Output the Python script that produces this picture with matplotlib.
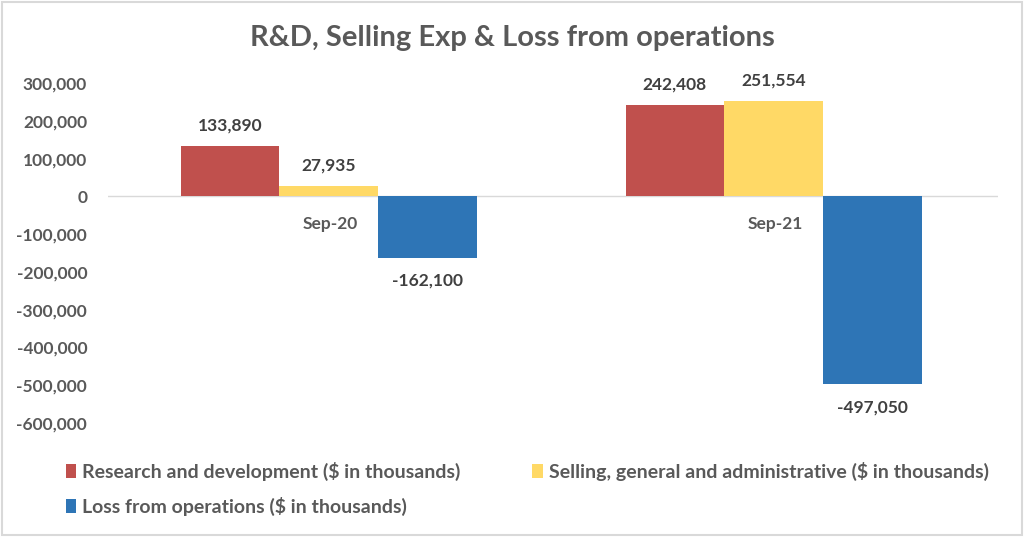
import numpy as np
import matplotlib
matplotlib.use("Agg")
import matplotlib.pyplot as plt
from matplotlib.patches import Rectangle

plt.rcParams['font.family'] = ['Lato', 'DejaVu Sans']

categories = ['Sep-20', 'Sep-21']
rnd = [133890, 242408]
sga = [27935, 251554]
loss = [-162100, -497050]
series_names = ['Research and development ($ in thousands)',
                'Selling, general and administrative ($ in thousands)',
                'Loss from operations ($ in thousands)']
colors = ['#C0504D', '#FFD966', '#2E75B6']

fig = plt.figure(figsize=(10.24, 5.37), dpi=100)
ax = fig.add_axes([108/1024, 1 - 423/537, (998-108)/1024, (423-83)/537])

x = np.arange(len(categories))
w = 0.222
handles = []
for i, (vals, c, name) in enumerate(zip([rnd, sga, loss], colors, series_names)):
    bars = ax.bar(x + (i - 1) * w - 0.004, vals, width=w, color=c, label=name)
    handles.append(bars)
    for b, v in zip(bars, vals):
        off = 9 if v >= 0 else -11
        ax.annotate(f'{v:,}', (b.get_x() + b.get_width() / 2, v), xytext=(0, off),
                    textcoords='offset points', ha='center',
                    va='bottom' if v >= 0 else 'top',
                    fontsize=12.5, fontweight='bold', color='#404040')

ax.set_xlim(-0.5, 1.5)
ax.set_ylim(-600000, 300000)
ax.set_yticks(np.arange(-600000, 300001, 100000))
ax.yaxis.set_major_formatter(matplotlib.ticker.FuncFormatter(lambda v, p: f'{int(v):,}'))
ax.tick_params(axis='y', length=0, labelsize=12.5, labelcolor='#595959', pad=15)
for t in ax.get_yticklabels():
    t.set_fontweight('bold')
ax.set_xticks([])
for s in ax.spines.values():
    s.set_visible(False)
ax.axhline(0, color='#D9D9D9', lw=1, zorder=0)
for xi, cat in zip(x, categories):
    ax.text(xi, -72000, cat, ha='center', va='center', fontsize=12.5,
            fontweight='bold', color='#595959')

fig.text(0.5, 1 - 38/537, 'R&D, Selling Exp & Loss from operations', ha='center',
         va='center', fontsize=21, fontweight='bold', color='#595959')

# column-major fill: put Loss in col 1 row 2
order = [0, 2, 1]
leg = fig.legend([handles[i] for i in order], [series_names[i] for i in order],
                 loc='upper left', bbox_to_anchor=(48/1024, 1 - 444/537), ncol=2,
                 frameon=False, fontsize=14, handlelength=0.55, handleheight=0.7,
                 handletextpad=0.3, columnspacing=3.7, labelspacing=0.85)
for t in leg.get_texts():
    t.set_color('#595959')
    t.set_fontweight('bold')

fig.patches.append(Rectangle((0.002, 0.003), 0.996, 0.994, transform=fig.transFigure,
                             fill=False, edgecolor='#D9D9D9', lw=1.5))
fig.savefig('out.png', dpi=100)
